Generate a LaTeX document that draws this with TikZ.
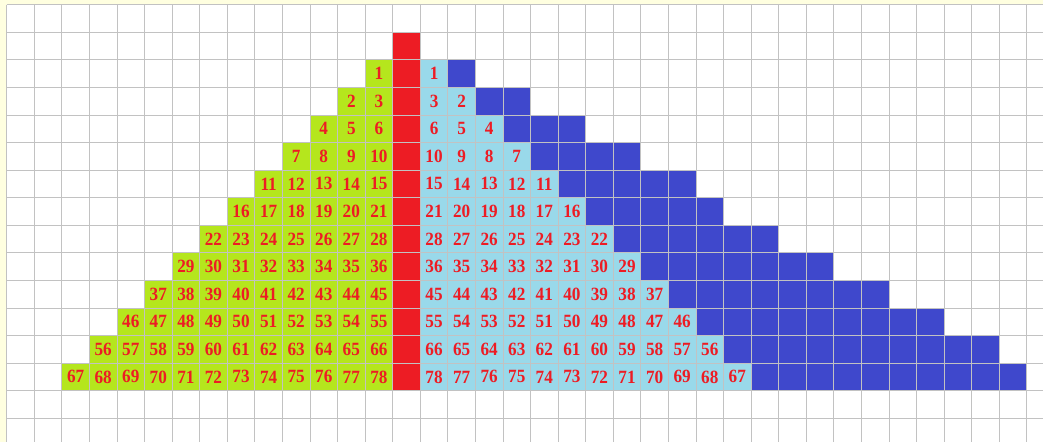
\documentclass[tikz,border=0pt]{standalone}
\usepackage{fontspec}
\setmainfont{Liberation Serif}
\definecolor{tri01paper}{HTML}{FFFFE0}
\definecolor{tri01lime}{HTML}{B5E61D}
\definecolor{tri01red}{HTML}{ED1C24}
\definecolor{tri01sky}{HTML}{99D9EA}
\definecolor{tri01indigo}{HTML}{3F48CC}
\begin{document}
\begin{tikzpicture}[
  x=0.7cm, y=0.7cm,
  tri01grid/.style = {black!24, line width=0.6pt},
  tri01num/.style = {font=\fontsize{13.5}{15}\selectfont\bfseries, text=tri01red, inner sep=0pt, xscale=0.92}
]
  \useasboundingbox (-0.243,-15.862) rectangle (37.587,0.170);
  % paper and sheet
  \fill[tri01paper] (-0.243,-15.862) rectangle (37.587,0.170);
  \fill[white] (0,-15.862) rectangle (37.587,0);
  % middle column
  \fill[tri01red] (14,-1) rectangle (15,-14);
  % rows
  \foreach \n/\e in {1/16,2/18,3/20,4/22,5/24,6/25,7/27,8/29,9/31,10/33,11/35,12/36} {
    \fill[tri01lime] (14-\n,-\n-1) rectangle (14,-\n-2);
    \fill[tri01sky] (15,-\n-1) rectangle (15+\n,-\n-2);
    \fill[tri01indigo] (15+\n,-\n-1) rectangle (\e+1,-\n-2);
  }
  % grid
  \foreach \i in {0,...,37}
    \draw[tri01grid] (\i,0) -- (\i,-15.862);
  \foreach \j in {0,...,15}
    \draw[tri01grid] (0,-\j) -- (37.587,-\j);
  % numbers
  \foreach \n in {1,...,12} {
    \foreach \k in {1,...,\n} {
      \pgfmathtruncatemacro{\lnum}{\n*(\n-1)/2+\k}
      \pgfmathtruncatemacro{\rnum}{\n*(\n+1)/2-\k+1}
      \node[tri01num] (l-\n-\k) at (13-\n+\k+0.5,-\n-1.5) {\lnum};
      \node[tri01num] (r-\n-\k) at (14+\k+0.5,-\n-1.5) {\rnum};
    }
  }
\end{tikzpicture}
\end{document}
